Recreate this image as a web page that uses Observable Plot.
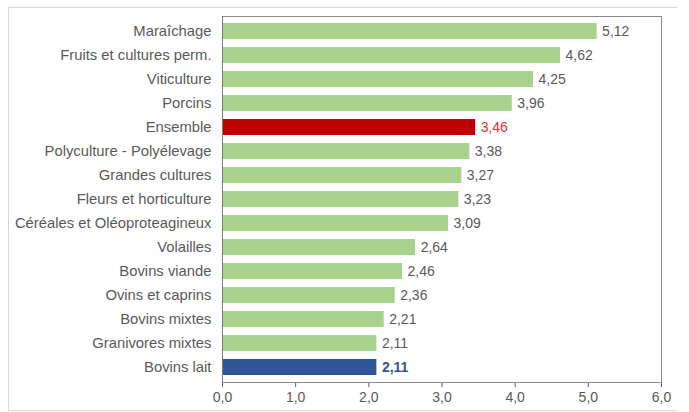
<!DOCTYPE html>
<html><head><meta charset="utf-8">
<script src="https://cdn.jsdelivr.net/npm/d3@7"></script>
<script src="https://cdn.jsdelivr.net/npm/@observablehq/plot@0.6"></script>
<style>
body{margin:0;background:#fff;}
#wrap{position:relative;width:689px;height:412px;overflow:hidden;}
#box{position:absolute;left:8px;top:7px;width:668px;height:402px;border:1px solid #d9d9d9;border-right:none;}
#chart{position:absolute;left:0;top:0;}
</style></head>
<body>
<div id="wrap"><div id="box"></div><div id="chart"></div></div>
<script>
const categories = ["Maraîchage","Fruits et cultures perm.","Viticulture","Porcins","Ensemble","Polyculture - Polyélevage","Grandes cultures","Fleurs et horticulture","Céréales et Oléoproteagineux","Volailles","Bovins viande","Ovins et caprins","Bovins mixtes","Granivores mixtes","Bovins lait"];
const values = [5.12,4.62,4.25,3.96,3.46,3.38,3.27,3.23,3.09,2.64,2.46,2.36,2.21,2.11,2.11];
const xTicks = [0,1,2,3,4,5,6];
const highlight = {"Ensemble":"ens","Bovins lait":"lait"};

const data = categories.map((c,i)=>({cat:c, v:values[i], kind: highlight[c] || "other"}));
const barFill = {other:"#a9d18e", ens:"#c00000", lait:"#2f5597"};
const txtFill = {other:"#595959", ens:"#e03030", lait:"#2f5597"};
const fmt = d => d3.format(".2f")(d).replace(".",",");
const fmt1 = d => d3.format(".1f")(d).replace(".",",");

const chart = Plot.plot({
  width:689, height:412,
  marginLeft:222, marginRight:28, marginTop:16, marginBottom:30,
  style:{fontFamily:"'Liberation Sans', Arial, sans-serif", fontSize:"14px", color:"#595959", background:"transparent"},
  x:{domain:[0,6], ticks:xTicks, tickFormat:fmt1, tickSize:5, tickPadding:5, label:null},
  y:{domain:categories, padding:0, label:null, axis:null},
  marks:[
    Plot.axisY({tickSize:0, tickPadding:11, fontSize:14.8, label:null}),
    Plot.barX(data,{y:"cat", x:"v", fill:d=>barFill[d.kind], insetTop:4, insetBottom:4}),
    Plot.text(data.filter(d=>d.kind!=="lait"),{y:"cat", x:"v", text:d=>fmt(d.v), textAnchor:"start", dx:5, fill:d=>txtFill[d.kind], fontSize:14}),
    Plot.text(data.filter(d=>d.kind==="lait"),{y:"cat", x:"v", text:d=>fmt(d.v), textAnchor:"start", dx:5, fill:d=>txtFill[d.kind], fontSize:14, fontWeight:"bold"}),
    Plot.frame({stroke:"#8c8c8c"}),
    Plot.ruleX([0],{stroke:"#7f7f7f"})
  ]
});
document.getElementById("chart").append(chart);
</script>
</body></html>
